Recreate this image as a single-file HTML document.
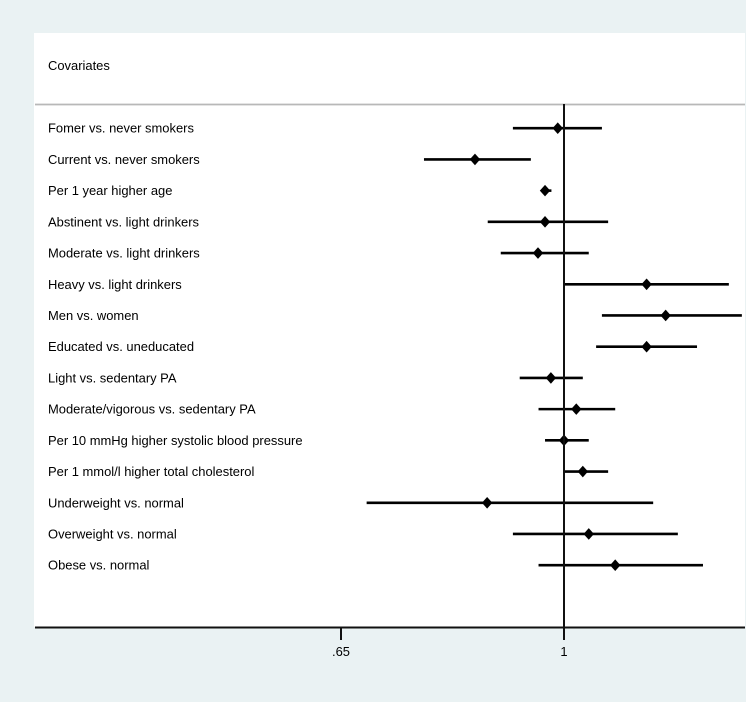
<!DOCTYPE html>
<html lang="en">
<head>
<meta charset="utf-8">
<title>Forest plot of covariates</title>
<style>
html,body{margin:0;padding:0;width:746px;height:703px;overflow:hidden;background:#fff}
svg{display:block}
text{font-family:"Liberation Sans",Arial,sans-serif;font-size:12.95px;fill:#000}
</style>
</head>
<body>
<svg id="chart" xmlns="http://www.w3.org/2000/svg" width="746" height="703" viewBox="0 0 746 703">
<rect x="0" y="0" width="746" height="702" fill="#eaf2f3"/>
<rect x="34" y="33" width="711" height="594" fill="#ffffff"/>
<text x="48" y="70">Covariates</text>
<line x1="35" y1="104.5" x2="745" y2="104.5" stroke="#b8b8b8" stroke-width="1.8"/>
<g id="rows"></g>
<line id="ref" y1="104" y2="640" stroke="#111" stroke-width="2"/>
<line x1="35" y1="627.5" x2="745" y2="627.5" stroke="#111" stroke-width="2"/>
<g id="axis"></g>
</svg>
<script>
const categories = [
  "Fomer vs. never smokers",
  "Current vs. never smokers",
  "Per 1 year higher age",
  "Abstinent vs. light drinkers",
  "Moderate vs. light drinkers",
  "Heavy vs. light drinkers",
  "Men vs. women",
  "Educated vs. uneducated",
  "Light vs. sedentary PA",
  "Moderate/vigorous vs. sedentary PA",
  "Per 10 mmHg higher systolic blood pressure",
  "Per 1 mmol/l higher total cholesterol",
  "Underweight vs. normal",
  "Overweight vs. normal",
  "Obese vs. normal"
];
const estimates = [0.988, 0.842, 0.964, 0.964, 0.951, 1.173, 1.217, 1.173, 0.975, 1.024, 1.000, 1.037, 0.862, 1.049, 1.104];
const lowerCI   = [0.906, 0.763, 0.958, 0.863, 0.885, 1.000, 1.076, 1.064, 0.918, 0.952, 0.964, 1.000, 0.683, 0.906, 0.952];
const upperCI   = [1.076, 0.938, 0.976, 1.089, 1.049, 1.375, 1.410, 1.293, 1.037, 1.104, 1.049, 1.089, 1.188, 1.246, 1.308];
const tickValues = [0.65, 1];
const tickLabels = [".65", "1"];

const NS = "http://www.w3.org/2000/svg";
function xScale(v) { return 564 + (Math.log(v) / Math.log(1 / 0.65)) * 223; }
function yScale(i) { return 128.2 + i * (437 / 14); }
function make(tag, attrs, parent) {
  const el = document.createElementNS(NS, tag);
  for (const k in attrs) el.setAttribute(k, attrs[k]);
  parent.appendChild(el);
  return el;
}
const rows = document.getElementById("rows");
const axis = document.getElementById("axis");
const ref = document.getElementById("ref");
ref.setAttribute("x1", xScale(1));
ref.setAttribute("x2", xScale(1));

categories.forEach(function (label, i) {
  const y = yScale(i);
  const t = make("text", { x: 48, y: y + 4.5 }, rows);
  
  
  t.textContent = label;

  const ci = make("line", { x1: xScale(lowerCI[i]), x2: xScale(upperCI[i]), y1: y, y2: y, stroke: "#000", "stroke-width": 2.6 }, rows);
  
  

  const cx = xScale(estimates[i]);
  const d = make("polygon", { points: [cx - 5.2, y, cx, y - 5.8, cx + 5.2, y, cx, y + 5.8].join(" "), fill: "#000" }, rows);
  
  
});

tickValues.forEach(function (v, i) {
  const x = xScale(v);
  const tick = make("line", { x1: x, x2: x, y1: 627, y2: 640, stroke: "#111", "stroke-width": 2 }, axis);
  
  
  const lab = make("text", { x: x, y: 656, "text-anchor": "middle" }, axis);
  
  
  lab.textContent = tickLabels[i];
});
</script>
</body>
</html>
